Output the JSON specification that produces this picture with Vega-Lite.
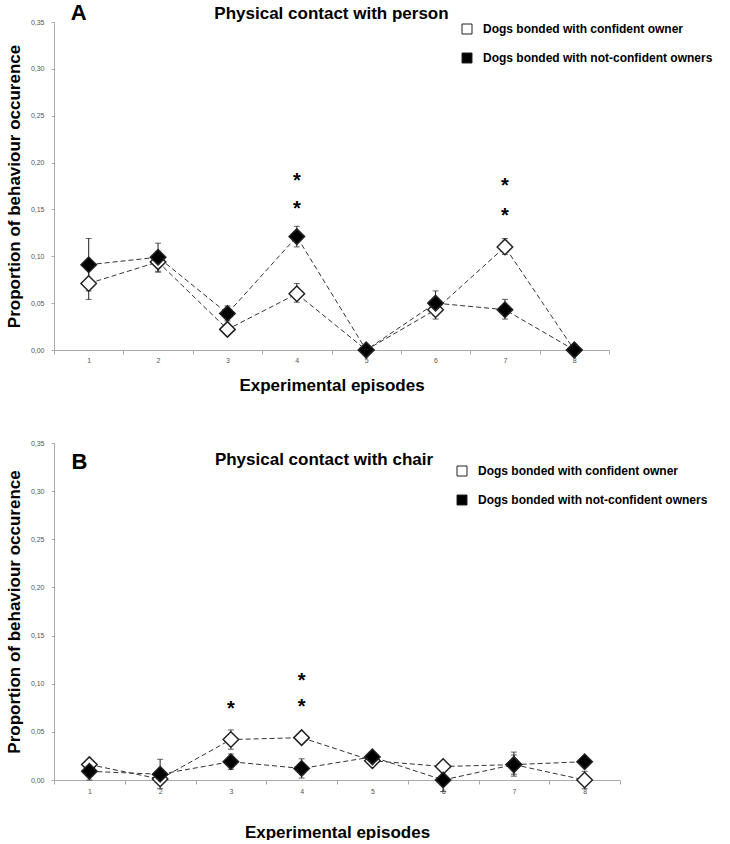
{
  "$schema": "https://vega.github.io/schema/vega-lite/v6.json",
  "background": "white",
  "padding": {"left": 5, "top": 2, "right": 5, "bottom": 0},
  "config": {
    "view": {"stroke": null},
    "font": "Liberation Sans",
    "axis": {"grid": false, "domainColor": "#aaa", "tickColor": "#aaa", "labelColor": "#555", "labelFontSize": 7, "labelFont": "Liberation Sans", "titleFont": "Liberation Sans", "titleFontSize": 17, "titleFontWeight": "bold", "titleColor": "black"},
    "axisY": {"tickCount": 7, "tickSize": 3, "labelPadding": 7, "titlePadding": 7, "labelExpr": "replace(format(datum.value, '.2f'), '.', ',')"},
    "axisX": {"labelAngle": 0, "tickBand": "extent", "tickSize": 4}
  },
  "datasets": {
    "A": [
      {"episode": 1, "group": "Dogs bonded with confident owner", "value": 0.071, "lo": 0.054, "hi": 0.088},
      {"episode": 2, "group": "Dogs bonded with confident owner", "value": 0.094, "lo": 0.083, "hi": 0.105},
      {"episode": 3, "group": "Dogs bonded with confident owner", "value": 0.022, "lo": 0.019, "hi": 0.025},
      {"episode": 4, "group": "Dogs bonded with confident owner", "value": 0.060, "lo": 0.051, "hi": 0.071},
      {"episode": 5, "group": "Dogs bonded with confident owner", "value": 0.0, "lo": 0.0, "hi": 0.0},
      {"episode": 6, "group": "Dogs bonded with confident owner", "value": 0.043, "lo": 0.033, "hi": 0.053},
      {"episode": 7, "group": "Dogs bonded with confident owner", "value": 0.110, "lo": 0.102, "hi": 0.119},
      {"episode": 8, "group": "Dogs bonded with confident owner", "value": 0.0, "lo": 0.0, "hi": 0.0},
      {"episode": 1, "group": "Dogs bonded with not-confident owners", "value": 0.091, "lo": 0.063, "hi": 0.119},
      {"episode": 2, "group": "Dogs bonded with not-confident owners", "value": 0.099, "lo": 0.084, "hi": 0.114},
      {"episode": 3, "group": "Dogs bonded with not-confident owners", "value": 0.039, "lo": 0.031, "hi": 0.047},
      {"episode": 4, "group": "Dogs bonded with not-confident owners", "value": 0.121, "lo": 0.110, "hi": 0.132},
      {"episode": 5, "group": "Dogs bonded with not-confident owners", "value": 0.0, "lo": 0.0, "hi": 0.0},
      {"episode": 6, "group": "Dogs bonded with not-confident owners", "value": 0.050, "lo": 0.037, "hi": 0.063},
      {"episode": 7, "group": "Dogs bonded with not-confident owners", "value": 0.043, "lo": 0.033, "hi": 0.054},
      {"episode": 8, "group": "Dogs bonded with not-confident owners", "value": 0.0, "lo": 0.0, "hi": 0.0}
    ],
    "B": [
      {"episode": 1, "group": "Dogs bonded with confident owner", "value": 0.016, "lo": 0.013, "hi": 0.019},
      {"episode": 2, "group": "Dogs bonded with confident owner", "value": 0.001, "lo": -0.002, "hi": 0.004},
      {"episode": 3, "group": "Dogs bonded with confident owner", "value": 0.042, "lo": 0.032, "hi": 0.052},
      {"episode": 4, "group": "Dogs bonded with confident owner", "value": 0.044, "lo": 0.042, "hi": 0.046},
      {"episode": 5, "group": "Dogs bonded with confident owner", "value": 0.020, "lo": 0.018, "hi": 0.022},
      {"episode": 6, "group": "Dogs bonded with confident owner", "value": 0.014, "lo": 0.011, "hi": 0.017},
      {"episode": 7, "group": "Dogs bonded with confident owner", "value": 0.016, "lo": 0.006, "hi": 0.026},
      {"episode": 8, "group": "Dogs bonded with confident owner", "value": 0.0, "lo": -0.009, "hi": 0.009},
      {"episode": 1, "group": "Dogs bonded with not-confident owners", "value": 0.009, "lo": 0.0, "hi": 0.018},
      {"episode": 2, "group": "Dogs bonded with not-confident owners", "value": 0.006, "lo": -0.009, "hi": 0.0215},
      {"episode": 3, "group": "Dogs bonded with not-confident owners", "value": 0.019, "lo": 0.011, "hi": 0.027},
      {"episode": 4, "group": "Dogs bonded with not-confident owners", "value": 0.012, "lo": 0.002, "hi": 0.022},
      {"episode": 5, "group": "Dogs bonded with not-confident owners", "value": 0.024, "lo": 0.022, "hi": 0.026},
      {"episode": 6, "group": "Dogs bonded with not-confident owners", "value": 0.0, "lo": -0.012, "hi": 0.012},
      {"episode": 7, "group": "Dogs bonded with not-confident owners", "value": 0.016, "lo": 0.004, "hi": 0.029},
      {"episode": 8, "group": "Dogs bonded with not-confident owners", "value": 0.019, "lo": 0.017, "hi": 0.021}
    ],
    "starsA": [
      {"episode": 4, "y": 0.185, "label": "*"},
      {"episode": 4, "y": 0.155, "label": "*"},
      {"episode": 7, "y": 0.179, "label": "*"},
      {"episode": 7, "y": 0.147, "label": "*"}
    ],
    "starsB": [
      {"episode": 3, "y": 0.078, "label": "*"},
      {"episode": 4, "y": 0.107, "label": "*"},
      {"episode": 4, "y": 0.080, "label": "*"}
    ]
  },
  "resolve": {"legend": {"fill": "independent"}},
  "spacing": 46,
  "vconcat": [
    {
      "width": 555,
      "height": 328,
      "title": {"text": "Physical contact with person", "fontSize": 17, "fontWeight": "bold", "font": "Liberation Sans", "anchor": "middle", "offset": -21, "color": "black"},
      "encoding": {
        "x": {"field": "episode", "type": "ordinal", "scale": {"type": "band", "paddingInner": 0, "paddingOuter": 0}, "axis": {"title": "Experimental episodes", "labelPadding": 2, "titlePadding": 14}}
      },
      "layer": [
        {
          "data": {"name": "A"},
          "mark": {"type": "rule", "color": "#222", "strokeWidth": 1},
          "encoding": {
            "y": {"field": "lo", "type": "quantitative", "scale": {"domain": [0, 0.35], "nice": false}, "title": "Proportion of behaviour occurence"},
            "y2": {"field": "hi"},
            "detail": {"field": "group"}
          }
        },
        {
          "data": {"name": "A"},
          "mark": {"type": "tick", "orient": "horizontal", "size": 6, "thickness": 1, "color": "#222"},
          "encoding": {"y": {"field": "lo", "type": "quantitative", "title": "Proportion of behaviour occurence"}}
        },
        {
          "data": {"name": "A"},
          "mark": {"type": "tick", "orient": "horizontal", "size": 6, "thickness": 1, "color": "#222"},
          "encoding": {"y": {"field": "hi", "type": "quantitative", "title": "Proportion of behaviour occurence"}}
        },
        {
          "data": {"name": "A"},
          "mark": {"type": "line", "strokeDash": [5, 3], "strokeWidth": 1, "color": "#333"},
          "encoding": {
            "y": {"field": "value", "type": "quantitative", "title": "Proportion of behaviour occurence"},
            "detail": {"field": "group"}
          }
        },
        {
          "data": {"name": "A"},
          "mark": {"type": "point", "shape": "diamond", "size": 240, "filled": true, "stroke": "#222", "strokeWidth": 1.5, "opacity": 1},
          "encoding": {
            "y": {"field": "value", "type": "quantitative", "title": "Proportion of behaviour occurence"},
            "fill": {"field": "group", "type": "nominal", "scale": {"domain": ["Dogs bonded with confident owner", "Dogs bonded with not-confident owners"], "range": ["white", "black"]},
              "legend": {"orient": "none", "legendX": 407, "legendY": 1, "title": null, "symbolType": "square", "symbolSize": 100, "symbolStrokeColor": "#222", "symbolStrokeWidth": 1, "labelFontSize": 12, "labelFontWeight": "bold", "labelFont": "Liberation Sans", "labelColor": "black", "labelOffset": 10, "labelLimit": 0, "rowPadding": 15, "padding": 0}}
          }
        },
        {
          "data": {"name": "starsA"},
          "mark": {"type": "text", "fontSize": 20, "fontWeight": "bold", "baseline": "middle", "dy": 4, "color": "black"},
          "encoding": {
            "y": {"field": "y", "type": "quantitative", "title": "Proportion of behaviour occurence"},
            "text": {"field": "label"}
          }
        },
        {
          "data": {"values": [{"label": "A"}]},
          "mark": {"type": "text", "fontSize": 22, "fontWeight": "bold", "baseline": "middle", "dx": -10, "dy": -9, "color": "black"},
          "encoding": {
            "x": {"datum": 1},
            "y": {"datum": 0.35},
            "text": {"field": "label"}
          }
        }
      ]
    },
    {
      "width": 566,
      "height": 337,
      "title": {"text": "Physical contact with chair", "fontSize": 17, "fontWeight": "bold", "font": "Liberation Sans", "anchor": "middle", "offset": -30, "dx": -13, "color": "black"},
      "encoding": {
        "x": {"field": "episode", "type": "ordinal", "scale": {"type": "band", "paddingInner": 0, "paddingOuter": 0}, "axis": {"title": "Experimental episodes", "labelPadding": 3, "titlePadding": 30}}
      },
      "layer": [
        {
          "data": {"name": "B"},
          "mark": {"type": "rule", "color": "#222", "strokeWidth": 1},
          "encoding": {
            "y": {"field": "lo", "type": "quantitative", "scale": {"domain": [0, 0.35], "nice": false}, "title": "Proportion of behaviour occurence"},
            "y2": {"field": "hi"},
            "detail": {"field": "group"}
          }
        },
        {
          "data": {"name": "B"},
          "mark": {"type": "tick", "orient": "horizontal", "size": 6, "thickness": 1, "color": "#222"},
          "encoding": {"y": {"field": "lo", "type": "quantitative", "title": "Proportion of behaviour occurence"}}
        },
        {
          "data": {"name": "B"},
          "mark": {"type": "tick", "orient": "horizontal", "size": 6, "thickness": 1, "color": "#222"},
          "encoding": {"y": {"field": "hi", "type": "quantitative", "title": "Proportion of behaviour occurence"}}
        },
        {
          "data": {"name": "B"},
          "mark": {"type": "line", "strokeDash": [5, 3], "strokeWidth": 1, "color": "#333"},
          "encoding": {
            "y": {"field": "value", "type": "quantitative", "title": "Proportion of behaviour occurence"},
            "detail": {"field": "group"}
          }
        },
        {
          "data": {"name": "B"},
          "mark": {"type": "point", "shape": "diamond", "size": 240, "filled": true, "stroke": "#222", "strokeWidth": 1.5, "opacity": 1},
          "encoding": {
            "y": {"field": "value", "type": "quantitative", "title": "Proportion of behaviour occurence"},
            "fill": {"field": "group", "type": "nominal", "scale": {"domain": ["Dogs bonded with confident owner", "Dogs bonded with not-confident owners"], "range": ["white", "black"]},
              "legend": {"orient": "none", "legendX": 402, "legendY": 22, "title": null, "symbolType": "square", "symbolSize": 100, "symbolStrokeColor": "#222", "symbolStrokeWidth": 1, "labelFontSize": 12, "labelFontWeight": "bold", "labelFont": "Liberation Sans", "labelColor": "black", "labelOffset": 10, "labelLimit": 0, "rowPadding": 15, "padding": 0}}
          }
        },
        {
          "data": {"name": "starsB"},
          "mark": {"type": "text", "fontSize": 20, "fontWeight": "bold", "baseline": "middle", "dy": 4, "color": "black"},
          "encoding": {
            "y": {"field": "y", "type": "quantitative", "title": "Proportion of behaviour occurence"},
            "text": {"field": "label"}
          }
        },
        {
          "data": {"values": [{"label": "B"}]},
          "mark": {"type": "text", "fontSize": 22, "fontWeight": "bold", "baseline": "middle", "dx": -10, "dy": 19, "color": "black"},
          "encoding": {
            "x": {"datum": 1},
            "y": {"datum": 0.35},
            "text": {"field": "label"}
          }
        }
      ]
    }
  ]
}
